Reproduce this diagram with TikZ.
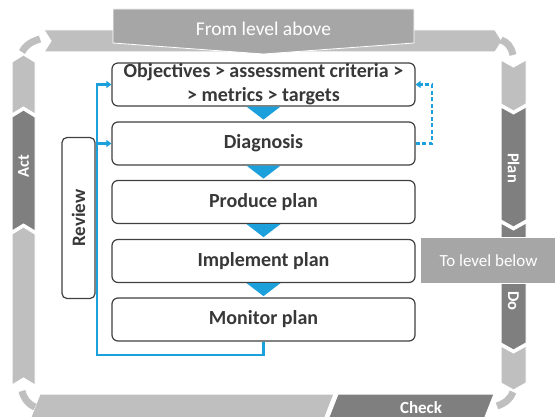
\documentclass[tikz,border=0pt]{standalone}
\usepackage{fontspec}
\setmainfont{Carlito}
\usetikzlibrary{arrows.meta}
\definecolor{lightband}{HTML}{BFBFBF}
\definecolor{darkband}{HTML}{7F7F7F}
\definecolor{midgray}{HTML}{A6A6A6}
\definecolor{boxtext}{HTML}{383838}
\definecolor{boxline}{HTML}{404040}
\definecolor{flowblue}{HTML}{1BA0DC}
\begin{document}
\begin{tikzpicture}[x=1pt,y=-1pt,
 band/.style={draw=white,line width=1pt,line join=miter},
 lband/.style={band,fill=lightband},
 dband/.style={band,fill=darkband},
 corner/.style={draw=lightband,line width=7pt},
 stepbox/.style={draw=boxline,line width=1.2pt,rounded corners=6pt,fill=white,minimum width=303pt,minimum height=43pt,inner sep=0pt,font=\fontsize{20}{24}\selectfont\bfseries,text=boxtext,align=center},
 bandlabel/.style={text=white,font=\fontsize{16.5}{18}\selectfont\bfseries,inner sep=0pt},
 levelbox/.style={fill=midgray,draw=white,line width=0.8pt,text=white,inner sep=0pt},
 flow/.style={draw=flowblue,line width=2.2pt},
 tip/.style={-{Triangle[width=7pt,length=5pt]}},
 pointer/.style={fill=flowblue}
]
\useasboundingbox (0,0) rectangle (555,417);
\clip (0,0) rectangle (555,417);
\fill[white] (0,0) rectangle (555,417);

% left band (upwards)
\path[lband] (12,385) -- (23.5,378) -- (35,385) -- (35,234) -- (23.5,227) -- (12,234) -- cycle;
\path[dband] (12,231) -- (23.5,224) -- (35,231) -- (35,117) -- (23.5,110) -- (12,117) -- cycle;
\path[lband] (12,114) -- (23.5,107) -- (35,114) -- (35,62) -- (23.5,55) -- (12,62) -- cycle;
\node[bandlabel,rotate=90] (act) at (23.5,166) {Act};

% right band (downwards)
\path[lband] (501,60) -- (513.5,67) -- (526,60) -- (526,104) -- (513.5,111) -- (501,104) -- cycle;
\path[dband] (501,107) -- (513.5,114) -- (526,107) -- (526,220) -- (513.5,227) -- (501,220) -- cycle;
\path[dband] (501,223) -- (513.5,230) -- (526,223) -- (526,343) -- (513.5,350) -- (501,343) -- cycle;
\path[lband] (501,346) -- (513.5,353) -- (526,346) -- (526,383) -- (513.5,390) -- (501,383) -- cycle;
\node[bandlabel,rotate=-90] (plan) at (513.5,168) {Plan};
\node[bandlabel,rotate=-90] (do) at (513.5,301) {Do};

% top band (rightwards)
\path[lband] (44,30) -- (495,30) -- (502,41) -- (495,52) -- (44,52) -- (51,41) -- cycle;

% bottom band (leftwards)
\path[lband] (334,394) -- (40,394) -- (31,417) -- (40,440) -- (334,440) -- (325,417) -- cycle;
\path[dband] (494,394) -- (338,394) -- (329,417) -- (338,440) -- (494,440) -- (485,417) -- cycle;
\node[bandlabel,font=\fontsize{17}{18}\selectfont\bfseries] (check) at (421,408) {Check};

% corner pieces
\draw[corner] (22,52) .. controls (25,46) and (30,42) .. (40,39);
\draw[corner] (501,40) .. controls (507,42) and (511,46) .. (513,55);
\draw[corner] (513,392) .. controls (511,398) and (506,403) .. (497,406);
\draw[corner] (35,407) .. controls (28,404) and (24,399) .. (22,391);

% from level above
\path[levelbox] (113,9) -- (414,9) -- (414,43) -- (263.5,54) -- (113,43) -- cycle;
\node[text=white,font=\fontsize{19.5}{22}\selectfont] (above) at (263.5,29) {From level above};

% to level below
\node[levelbox,minimum width=136pt,minimum height=46pt,font=\fontsize{17}{20}\selectfont] (below) at (488.5,260.5) {To level below};

% main boxes
\node[stepbox] (b1) at (263.5,84.5) {Objectives > assessment criteria >\\> metrics > targets};
\node[stepbox] (b2) at (263.5,143.5) {Diagnosis};
\node[stepbox] (b3) at (263.5,202) {Produce plan};
\node[stepbox] (b4) at (263.5,261) {Implement plan};
\node[stepbox] (b5) at (263.5,319.5) {Monitor plan};

% blue pointers between boxes
\foreach \b in {b1,b2,b3,b4}{
  \path[pointer] (\b.south) ++(-17,0) -- ++(34,0) -- ++(-17,13) -- cycle;
}

% review box
\node[draw=boxline,line width=1.2pt,rounded corners=5pt,fill=white,minimum width=161pt,minimum height=33pt,inner sep=0pt,rotate=90,text=boxtext,font=\fontsize{19}{22}\selectfont\bfseries] (review) at (78.5,218) {Review};

% review loop
\coordinate (lb) at (97,355);
\draw[flow,tip] (b5.south) |- (lb) |- (b1.west);
\draw[flow,tip] (lb |- b2.west) -- (b2.west);

% dashed feedback
\coordinate (dr) at (432,0);
\draw[flow,tip,dash pattern=on 4pt off 2.5pt] (b2.east) -- (dr |- b2.east) -- (dr |- b1.east) -- (b1.east);
\end{tikzpicture}
\end{document}
